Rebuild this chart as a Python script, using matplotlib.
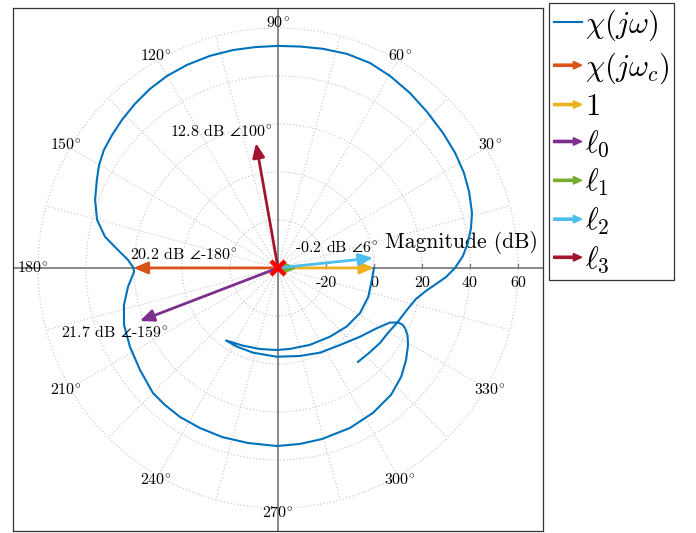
import numpy as np
import matplotlib.pyplot as plt
import matplotlib.patches as mpatches
from matplotlib.lines import Line2D
from matplotlib.legend_handler import HandlerPatch

plt.rcParams['font.family'] = 'cmr10'
plt.rcParams['mathtext.fontset'] = 'cm'
plt.rcParams['axes.unicode_minus'] = False

# chi(jw): magnitude (dB) and phase (deg)
curve_mag_db = [0.0, -0.6, -0.5, -1.0, -2.4, -4.1, -5.3, -5.9, -5.8, -5.4, -4.5, -2.8,
                -3.0, -3.2, -3.0, -2.2, -0.6, 1.2, 4.6, 8.2, 11.9, 15.1, 17.0, 18.6, 20.75,
                22.95, 25.7, 28.5, 30.8, 32.2, 33.1, 33.6, 33.9, 34.2, 34.0, 34.2, 34.2,
                34.3, 34.0, 33.7, 31.5, 29.9, 28.4, 26.0, 23.0, 20.0, 20.2,
                22.6, 27.1, 33.2, 38.0, 41.3, 43.9, 46.0, 47.6, 48.6, 49.6, 50.7, 51.7,
                52.4, 52.7, 52.8, 52.7, 52.5, 52.5, 52.7, 53.2, 53.7, 53.6, 52.6, 51.3,
                49.9, 48.8, 48.0, 47.0, 45.7, 44.0, 42.1, 39.8, 37.2, 33.75, 30.1, 26.2,
                22.4, 18.9, 16.5, 14.6, 13.2, 12.75, 11.9, 11.4]
curve_phase_deg = [0.0, -7.3, -17.6, -28.8, -40.5, -52.9, -67.4, -81.6, -90.9, -102.5, -114.1, -125.6,
                   -117.7, -106.3, -90.8, -76.0, -63.6, -51.2, -40.0, -31.4, -26.0, -24.4, -24.5, -25.4, -27.4,
                   -30.6, -35.7, -41.5, -48.3, -56.8, -65.8, -75.6, -82.9, -90.3, -99.7, -108.3, -116.0,
                   -123.3, -129.5, -135.0, -143.5, -151.9, -159.7, -166.5, -172.8, -178.4, -180.0,
                   -183.1, -186.4, -190.2, -194.9, -200.4, -205.9, -209.9, -214.1, -218.7, -223.5, -228.9, -234.4,
                   -240.0, -245.9, -252.2, -258.3, -264.3, -270.0, -275.7, -281.6, -287.9, -294.2, -300.3, -307.0,
                   -313.7, -320.7, -327.0, -332.9, -338.3, -344.2, -348.3, -352.5, -356.3, -360.0, -363.1, -365.8,
                   -368.8, -372.7, -378.0, -384.8, -390.6, -396.3, -403.0, -409.6]

# vectors
vec_names = [r'$\chi(j\omega_c)$', r'$1$', r'$\ell_0$', r'$\ell_1$', r'$\ell_2$', r'$\ell_3$']
vec_mag_db = [20.2, 0.0, 21.7, -32.0, -0.2, 12.8]
vec_phase_deg = [-180, 0, -159, 0, 6, 100]
vec_colors = ['#D95319', '#EDB120', '#7E2F8E', '#77AC30', '#4DBEEE', '#A2142F']
vec_annotated = [True, False, True, False, True, True]
label_offsets = [(50, 14), (0, 0), (-25, -11), (0, 0), (-36, 11), (-35, 12)]

ring_db = [-20, 0, 20, 40, 60]
angle_labels = [30, 60, 90, 120, 150, 180, 210, 240, 270, 300, 330]
db_floor = -40  # radius zero


def to_xy(mag_db, phase_deg):
    r = np.asarray(mag_db) - db_floor
    t = np.deg2rad(phase_deg)
    return r * np.cos(t), r * np.sin(t)


def deg_text(v):
    # hyphen kept as plain text, like the original labels
    sign = '-' if v < 0 else ''
    return f'{sign}${abs(v)}^{{\\!\\circ}}$'


fig = plt.figure(figsize=(6.96, 5.33), dpi=100)
ax = fig.add_axes([13 / 696, 2 / 533, 530 / 696, 523 / 533])
ax.set_xlim(-110.4, 110.4)
ax.set_ylim(-109.6, 108.3)
ax.set_xticks([])
ax.set_yticks([])
for s in ax.spines.values():
    s.set_color('#333333')
    s.set_linewidth(0.9)

# polar grid
grid_kw = dict(color='#c4c4c4', lw=0.8, ls=(0, (1, 2)), zorder=1)
tt = np.linspace(0, 2 * np.pi, 400)
r_max = ring_db[-1] - db_floor
for db in ring_db:
    r = db - db_floor
    ax.plot(r * np.cos(tt), r * np.sin(tt), **grid_kw)
for a in range(0, 360, 15):
    ax.plot([0, r_max * np.cos(np.deg2rad(a))], [0, r_max * np.sin(np.deg2rad(a))], **grid_kw)

ax.axhline(0, color='#808080', lw=1.3, zorder=2)
ax.axvline(0, color='#808080', lw=1.3, zorder=2)
for db in ring_db:
    r = db - db_floor
    ax.plot([r, r], [0, 1.7], color='#808080', lw=1.0, zorder=2)
    ax.text(r, -6.4, str(db), ha='center', va='center', fontsize=11.5)
ax.text(76.3, 10.4, 'Magnitude (dB)', ha='center', va='center', fontsize=15.5)

for a in angle_labels:
    ax.text(102 * np.cos(np.deg2rad(a)), 102 * np.sin(np.deg2rad(a)), deg_text(a),
            ha='center', va='center', fontsize=11.5)

# chi(jw)
cx, cy = to_xy(curve_mag_db, curve_phase_deg)
ax.plot(cx, cy, color='#0072BD', lw=1.5, zorder=3, solid_joinstyle='round')

# vectors
for m, p, c, ann, off in zip(vec_mag_db, vec_phase_deg, vec_colors, vec_annotated, label_offsets):
    x, y = to_xy(m, p)
    arr = mpatches.FancyArrowPatch((0, 0), (float(x), float(y)),
                                   arrowstyle='-|>,head_length=0.7,head_width=0.3',
                                   mutation_scale=12, lw=2, color=c,
                                   shrinkA=0, shrinkB=0, zorder=4)
    ax.add_patch(arr)
    if ann:
        ax.annotate(f'{m:.1f} dB $\\angle$' + deg_text(p), xy=(float(x), float(y)),
                    xytext=off, textcoords='offset pixels',
                    ha='center', va='center', fontsize=11.5, zorder=5)

ax.plot(0, 0, marker='x', color='red', ms=10, mew=3.2, zorder=6)


def make_arrow(legend, orig_handle, xdescent, ydescent, width, height, fontsize):
    return mpatches.FancyArrow(-xdescent, height / 2 - ydescent, width, 0,
                               length_includes_head=True, width=1.6,
                               head_width=5.5, head_length=6)


handles = [Line2D([], [], color='#0072BD', lw=1.5)] + [mpatches.Patch(color=c) for c in vec_colors]
labels = [r'$\chi(j\omega)$'] + vec_names
leg = fig.legend(handles, labels, loc='upper left', bbox_to_anchor=(549 / 696, 1 - 3 / 533),
                 fontsize=22, handlelength=0.92, handletextpad=0.1, labelspacing=0.25,
                 borderpad=0.15, borderaxespad=0, fancybox=False, edgecolor='#333333',
                 framealpha=1, handler_map={mpatches.Patch: HandlerPatch(patch_func=make_arrow)})
leg.get_frame().set_linewidth(0.9)

fig.savefig('out.png', dpi=100)
